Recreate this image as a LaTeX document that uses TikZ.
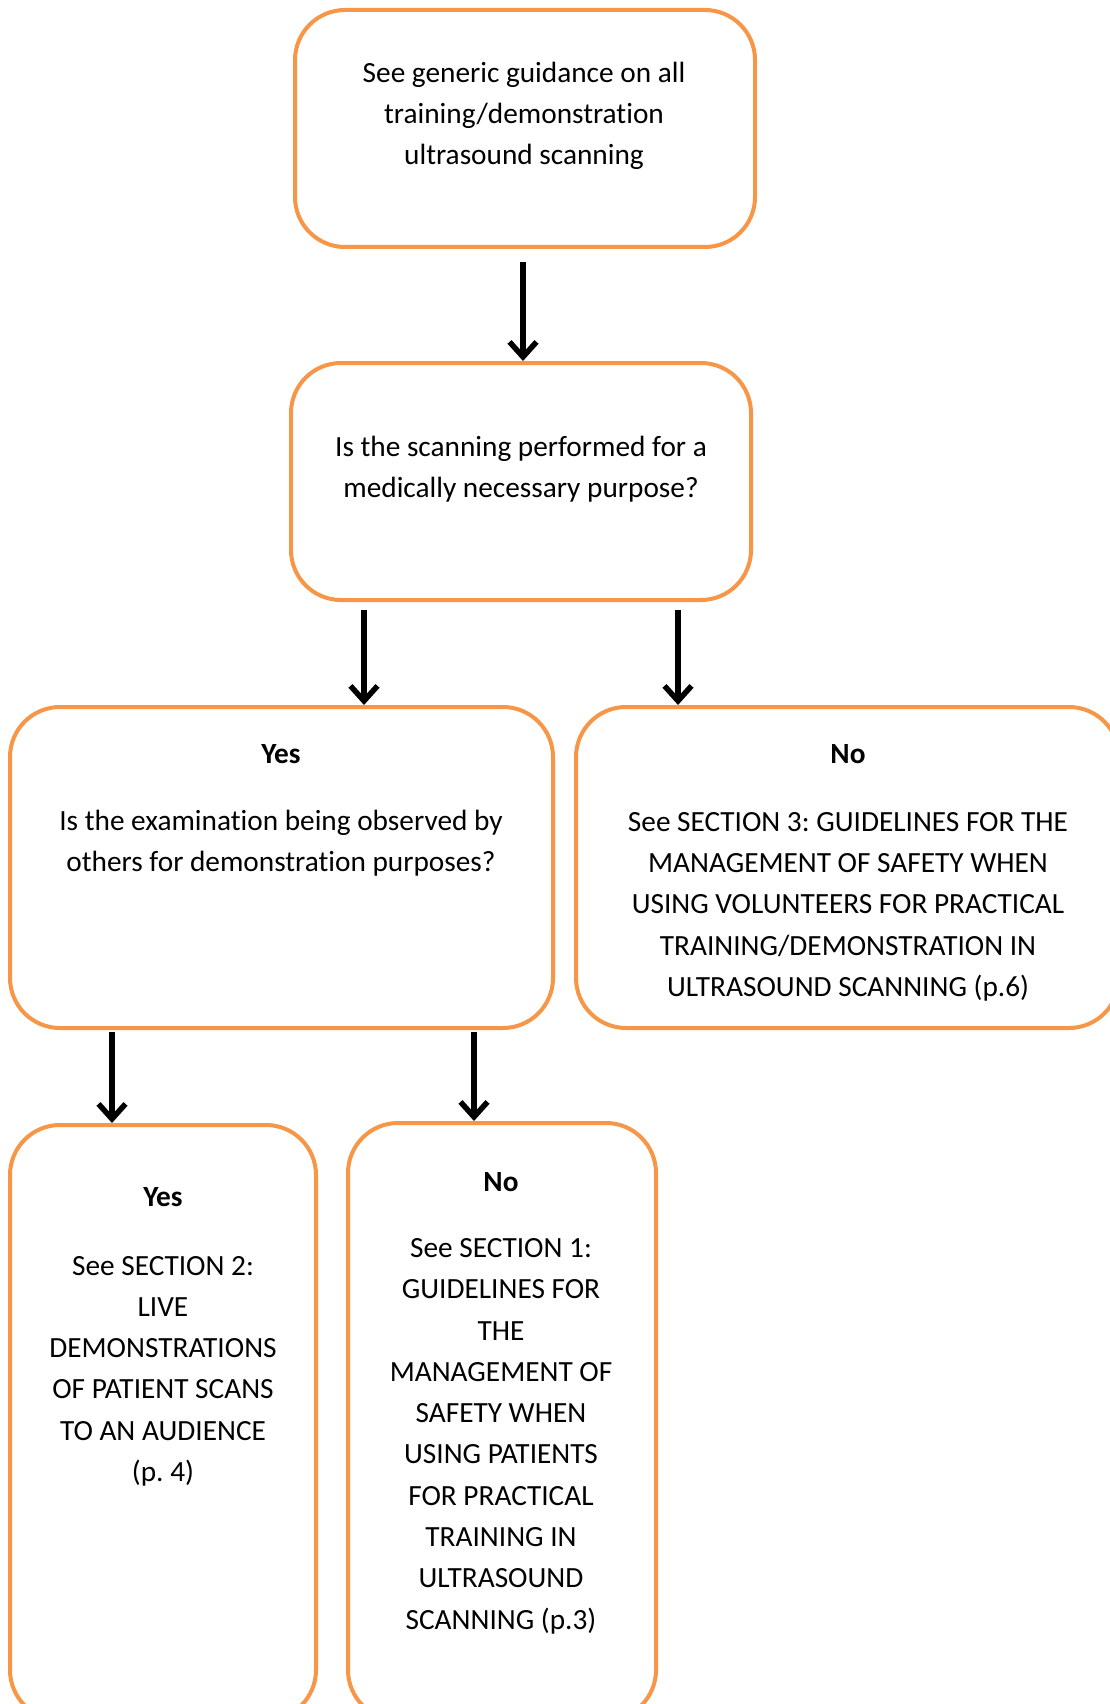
\documentclass[tikz,border=0pt]{standalone}
\usepackage{fontspec}
\setmainfont{Carlito}[Ligatures=NoCommon]
\usetikzlibrary{arrows.meta,calc}
\definecolor{boxorange}{HTML}{F79646}
\frenchspacing

\begin{document}
\begin{tikzpicture}[x=1pt,y=1pt,yscale=-1,xscale=1,
  box/.style={draw=boxorange,line width=4pt,rounded corners=50pt,inner sep=0pt},
  txt/.style={align=center,inner sep=0pt,font={\fontsize{29.3}{41.3}\selectfont}},
  arr/.style={line width=5.5pt,-{Straight Barb[length=15pt,width=27pt]}}]
\useasboundingbox (0,0) rectangle (1110,1704);
\clip (0,0) rectangle (1110,1704);

% Box
\node[box,minimum width=460pt,minimum height=237pt] (guide) at (525,128.5) {};
% Box
\node[box,minimum width=460pt,minimum height=237pt] (purpose) at (521,481.5) {};
% Box
\node[box,minimum width=543pt,minimum height=321pt] (observed) at (281.5,867.5) {};
% Box
\node[box,minimum width=543pt,minimum height=321pt] (volunteers) at (847.5,867.5) {};
% Box
\node[box,minimum width=306pt,minimum height=595pt] (audience) at (163,1422.5) {};
% Box
\node[box,minimum width=308pt,minimum height=597pt] (patients) at (502,1421.5) {};

% Text Node
\node[txt] (guidetext) at (524,116) {See generic guidance on all\\training/demonstration\\ultrasound scanning};
% Text Node
\node[txt] (purposetext) at (521,469) {Is the scanning performed for a\\medically necessary purpose?};
% Text Node
\node[txt] (observedtext) at (281,810.5) {\textbf{Yes}\\[26pt]Is the examination being observed by\\others for demonstration purposes?};
% Text Node
\node[txt] (volunteerstext) at (848,873) {\textbf{No}\\[26pt]See SECTION 3: GUIDELINES FOR THE\\MANAGEMENT OF SAFETY WHEN\\USING VOLUNTEERS FOR PRACTICAL\\TRAINING/DEMONSTRATION IN\\ULTRASOUND SCANNING (p.6)};
% Text Node
\node[txt] (audiencetext) at (163,1337) {\textbf{Yes}\\[27pt]See SECTION 2:\\LIVE\\DEMONSTRATIONS\\OF PATIENT SCANS\\TO AN AUDIENCE\\(p. 4)};
% Text Node
\node[txt] (patientstext) at (501,1403) {\textbf{No}\\[25pt]See SECTION 1:\\GUIDELINES FOR\\THE\\MANAGEMENT OF\\SAFETY WHEN\\USING PATIENTS\\FOR PRACTICAL\\TRAINING IN\\ULTRASOUND\\SCANNING (p.3)};

% Connection
\draw[arr] ($(guide.south)+(-2,13)$) -- ($(purpose.north)+(2,0)$);
% Connection
\draw[arr] ($(purpose.south)+(-157,8)$) -- ($(observed.north)+(82.5,0)$);
% Connection
\draw[arr] ($(purpose.south)+(157,8)$) -- ($(volunteers.north)+(-169.5,0)$);
% Connection
\draw[arr] ($(observed.south)+(-169.5,2)$) -- ($(audience.north)+(-51,0)$);
% Connection
\draw[arr] ($(observed.south)+(192.5,2)$) -- ($(patients.north)+(-28,0)$);

\end{tikzpicture}
\end{document}
